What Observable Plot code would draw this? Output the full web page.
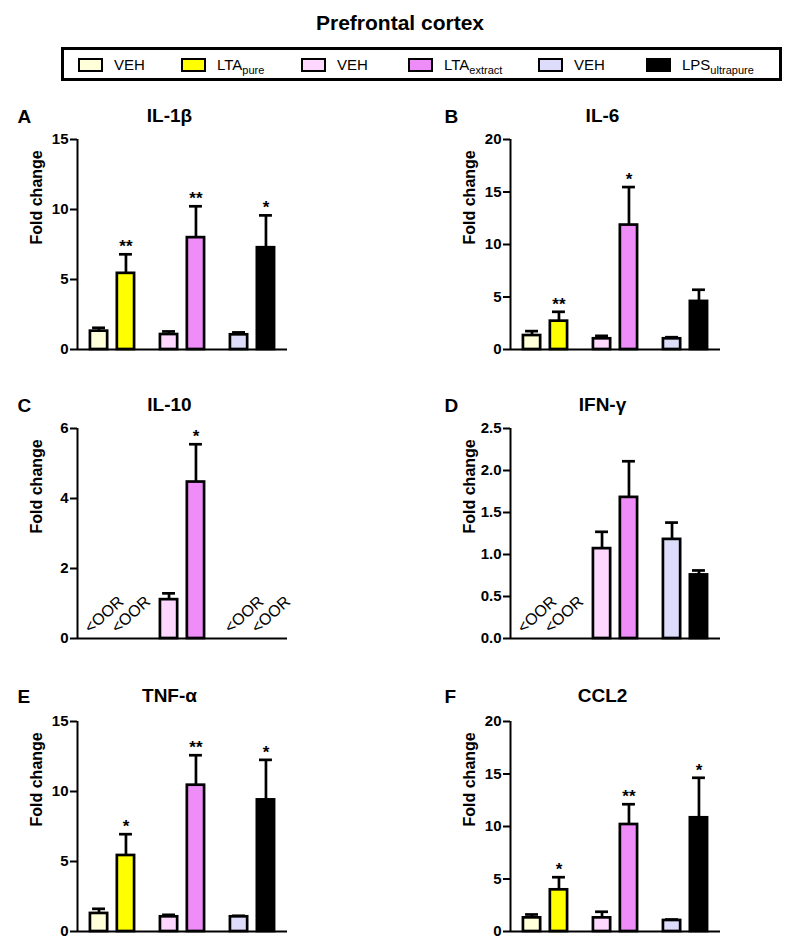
<!DOCTYPE html>
<html><head><meta charset="utf-8">
<script src="https://cdn.jsdelivr.net/npm/d3@7"></script>
<script src="https://cdn.jsdelivr.net/npm/@observablehq/plot@0.6"></script>
<style>
html,body{margin:0;padding:0;background:#fff;overflow:hidden;}
body{width:800px;height:947px;position:relative;font-family:"Liberation Sans",Arial,sans-serif;color:#000;}
#title{position:absolute;left:0;top:11px;width:800px;text-align:center;font-weight:bold;font-size:21px;line-height:24px;}
#legend{position:absolute;left:61px;top:47px;width:715px;height:28px;border:3px solid #000;}
.sw{position:absolute;top:8px;width:25px;height:14px;border:2px solid #000;box-sizing:border-box;}
.lt{position:absolute;top:6px;font-size:15px;line-height:17px;white-space:nowrap;}
.lt sub{font-size:11px;vertical-align:-4px;line-height:0;}
.panel{position:absolute;}
.panel svg{overflow:visible;}
g[aria-label="y-axis tick label"] text{font-weight:bold;}
</style>
</head><body>
<div id="title">Prefrontal cortex</div>
<div id="legend"></div>
<div id="p0" class="panel" style="left:0px;top:89px"></div>
<div id="p1" class="panel" style="left:433px;top:89px"></div>
<div id="p2" class="panel" style="left:0px;top:378px"></div>
<div id="p3" class="panel" style="left:433px;top:378px"></div>
<div id="p4" class="panel" style="left:0px;top:671px"></div>
<div id="p5" class="panel" style="left:433px;top:671px"></div>
<script>
// ---- data ----
const legendMain = ["VEH","LTA","VEH","LTA","VEH","LPS"];
const legendSub  = ["","pure","","extract","","ultrapure"];
const barColors  = ["#FFFFD9","#FFFF00","#FDD7FD","#EE8CF8","#DDDDFB","#000000"];
const panelIds    = ["A","B","C","D","E","F"];
const panelTitles = ["IL-1β","IL-6","IL-10","IFN-γ","TNF-α","CCL2"];
const yMax   = [15,20,6,2.5,15,20];
const yTicks = [[0,5,10,15],[0,5,10,15,20],[0,2,4,6],[0,0.5,1,1.5,2,2.5],[0,5,10,15],[0,5,10,15,20]];

const il1bMean = [1.31,5.44,1.07,7.99,1.05,7.27];
const il1bErr  = [1.55,6.80,1.29,10.23,1.22,9.58];
const il1bSig  = ["","**","","**","","*"];
const il6Mean  = [1.33,2.70,1.02,11.85,1.02,4.58];
const il6Err   = [1.75,3.59,1.30,15.47,1.17,5.69];
const il6Sig   = ["","**","","*","",""];
const il10Mean = [null,null,1.11,4.47,null,null];
const il10Err  = [null,null,1.29,5.55,null,null];
const il10Sig  = ["","","","*","",""];
const ifngMean = [null,null,1.07,1.68,1.18,0.757];
const ifngErr  = [null,null,1.27,2.11,1.38,0.81];
const ifngSig  = ["","","","","",""];
const tnfaMean = [1.29,5.43,1.05,10.45,1.05,9.40];
const tnfaErr  = [1.62,6.95,1.19,12.59,1.12,12.26];
const tnfaSig  = ["","*","","**","","*"];
const ccl2Mean = [1.30,3.97,1.30,10.19,1.05,10.83];
const ccl2Err  = [1.62,5.17,1.88,12.12,1.14,14.64];
const ccl2Sig  = ["","*","","**","","*"];

const oorLabel = "<OOR";
const yLabel = "Fold change";

// ---- legend ----
const swLeft = [78,181,301,408,538,646];
const legend = document.getElementById("legend");
legendMain.forEach((m,i)=>{
  const sw = document.createElement("div");
  sw.className = "sw";
  sw.style.left = (swLeft[i]-64) + "px";
  sw.style.background = barColors[i];
  legend.appendChild(sw);
  const t = document.createElement("div");
  t.className = "lt";
  t.style.left = (swLeft[i]-64+36) + "px";
  t.textContent = m;
  if (legendSub[i]) { const s = document.createElement("sub"); s.textContent = legendSub[i]; t.appendChild(s); }
  legend.appendChild(t);
});

// ---- panels ----
const FONT = '"Liberation Sans", Arial, sans-serif';
function panel(k, mean, err, sig) {
  const rows = mean.map((v,i)=>({i, pos: Math.floor(i/2)*2.6 + (i%2), mean: v, err: err[i], sig: sig[i], color: barColors[i]}));
  const valid = rows.filter(d=>d.mean!=null);
  const oor = rows.filter(d=>d.mean==null);
  const right = k%2===1;
  const row = Math.floor(k/2);
  return Plot.plot({
    width: right?367:400, height: 276,
    marginLeft: 77, marginRight: right?80:113, marginTop: 50, marginBottom: 16,
    x: {type:"linear", domain:[-0.8,7.0], axis:null},
    y: {domain:[0,yMax[k]]},
    style: {fontFamily: FONT, fontSize: "14px", color: "black", background: "white", overflow: "visible"},
    marks: [
      Plot.ruleX(valid, {x:"pos", y1:"mean", y2:"err", stroke:"black", strokeWidth:2.7}),
      Plot.ruleY(valid, {y:"err", x1: d=>d.pos-0.24, x2: d=>d.pos+0.24, stroke:"black", strokeWidth:2.7}),
      Plot.rectY(valid, {x1: d=>d.pos-0.32, x2: d=>d.pos+0.32, y1: 0, y2: "mean", fill: "color", stroke: "black", strokeWidth: 2.7}),
      Plot.ruleY([0], {stroke:"black", strokeWidth:2}),
      Plot.ruleX([-0.8], {y1:0, y2:yMax[k], stroke:"black", strokeWidth:2}),
      Plot.axisY({ticks: yTicks[k], tickSize: 7, tickPadding: 2,
        tickFormat: k===3 ? d3.format(".1f") : d3.format("d"),
        fontSize: 15, fontWeight: "bold", strokeWidth: 2, stroke: "black", fill: "black", label: null}),
      Plot.text(valid.filter(d=>d.sig), {x:"pos", y:"err", text:"sig", lineAnchor:"bottom", dy:-2, fontSize:17, fontWeight:"bold", fill:"black"}),
      Plot.text(oor, {x:"pos", y: ()=>0, text: ()=>oorLabel, rotate:-42, dx:5, dy:-24, fontSize:16, fill:"black"}),
      Plot.text([panelTitles[k]], {frameAnchor:"top", dx:-13, dy: row===2?-33:-31, fontSize:19, fontWeight:"bold", fill:"black"}),
      Plot.text([panelIds[k]], {frameAnchor:"top-left", textAnchor:"start", dx: right?-66:-60, dy: row===2?-32:-30, fontSize:19, fontWeight:"bold", fill:"black"}),
      Plot.text([yLabel], {frameAnchor:"left", rotate:-90, dx:-41, fontSize:16, fontWeight:"bold", fill:"black"})
    ]
  });
}
const data = [[il1bMean,il1bErr,il1bSig],[il6Mean,il6Err,il6Sig],[il10Mean,il10Err,il10Sig],
              [ifngMean,ifngErr,ifngSig],[tnfaMean,tnfaErr,tnfaSig],[ccl2Mean,ccl2Err,ccl2Sig]];
data.forEach((d,k)=>{ document.getElementById("p"+k).appendChild(panel(k, d[0], d[1], d[2])); });
</script>
</body></html>
